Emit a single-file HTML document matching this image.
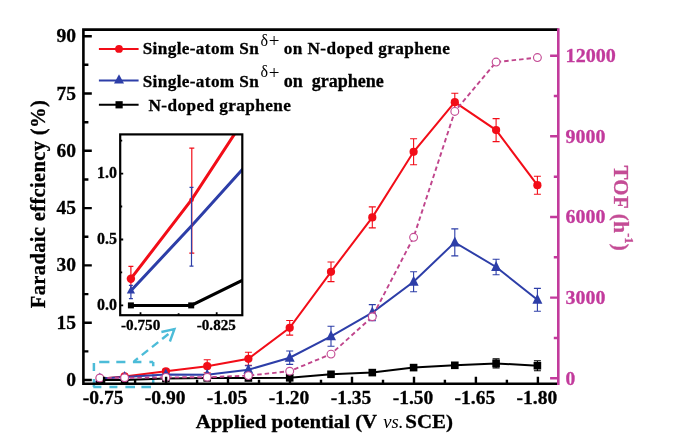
<!DOCTYPE html><html><head><meta charset="utf-8"><style>html,body{margin:0;padding:0;background:#fff;overflow:hidden}svg{display:block;will-change:transform}</style></head><body>
<svg width="674" height="441" viewBox="0 0 674 441" style="font-family:&quot;Liberation Serif&quot;,serif" font-weight="bold">
<rect width="674" height="441" fill="#fff"/>
<path d="M99.2 361.9H109.4M116.3 361.9H125.4M132.9 361.9H141.4M149.4 361.9H153.2M153.2 361.9V366.2M153.2 374.2V383.8M93.3 387H101.4M109.4 387H117.4M125.4 387H135.0M141.4 387H151.0M93.9 363V371M93.9 379V387" stroke="#4cbcd8" stroke-width="2.5" fill="none"/>
<path d="M134 361.4L174.4 329.2" stroke="#4cbcd8" stroke-width="2.4" stroke-dasharray="8 5" stroke-dashoffset="3" fill="none"/>
<path d="M161.4 332L174.4 329.2L169.9 341.5" stroke="#4cbcd8" stroke-width="2.4" fill="none"/>
<path d="M165.9 369.3V373.3M162.4 369.3h7.0M162.4 373.3h7.0M207.2 359.7V372.7M203.7 359.7h7.0M203.7 372.7h7.0M248.4 352.3V365.3M244.9 352.3h7.0M244.9 365.3h7.0M289.7 320.5V335.1M286.2 320.5h7.0M286.2 335.1h7.0M331.0 262.0V281.6M327.5 262.0h7.0M327.5 281.6h7.0M372.3 206.9V227.9M368.8 206.9h7.0M368.8 227.9h7.0M413.6 138.8V164.8M410.1 138.8h7.0M410.1 164.8h7.0M454.8 93.2V111.2M451.3 93.2h7.0M451.3 111.2h7.0M496.1 118.6V141.6M492.6 118.6h7.0M492.6 141.6h7.0M537.4 176.2V194.2M533.9 176.2h7.0M533.9 194.2h7.0" stroke="#f20d18" stroke-width="1.1" fill="none"/>
<polyline points="99.8,378.7 124.6,376.4 165.9,371.3 207.2,366.2 248.4,358.8 289.7,327.8 331.0,271.8 372.3,217.4 413.6,151.8 454.8,102.2 496.1,130.1 537.4,185.2" fill="none" stroke="#f20d18" stroke-width="2"/>
<circle cx="99.8" cy="378.7" r="4.1" fill="#f20d18"/>
<circle cx="124.6" cy="376.4" r="4.1" fill="#f20d18"/>
<circle cx="165.9" cy="371.3" r="4.1" fill="#f20d18"/>
<circle cx="207.2" cy="366.2" r="4.1" fill="#f20d18"/>
<circle cx="248.4" cy="358.8" r="4.1" fill="#f20d18"/>
<circle cx="289.7" cy="327.8" r="4.1" fill="#f20d18"/>
<circle cx="331.0" cy="271.8" r="4.1" fill="#f20d18"/>
<circle cx="372.3" cy="217.4" r="4.1" fill="#f20d18"/>
<circle cx="413.6" cy="151.8" r="4.1" fill="#f20d18"/>
<circle cx="454.8" cy="102.2" r="4.1" fill="#f20d18"/>
<circle cx="496.1" cy="130.1" r="4.1" fill="#f20d18"/>
<circle cx="537.4" cy="185.2" r="4.1" fill="#f20d18"/>
<path d="M248.4 365.8V373.8M244.9 365.8h7.0M244.9 373.8h7.0M289.7 351.0V364.4M286.2 351.0h7.0M286.2 364.4h7.0M331.0 326.3V346.3M327.5 326.3h7.0M327.5 346.3h7.0M372.3 304.6V320.6M368.8 304.6h7.0M368.8 320.6h7.0M413.6 271.7V291.7M410.1 271.7h7.0M410.1 291.7h7.0M454.8 228.9V255.9M451.3 228.9h7.0M451.3 255.9h7.0M496.1 259.3V274.7M492.6 259.3h7.0M492.6 274.7h7.0M537.4 288.4V311.2M533.9 288.4h7.0M533.9 311.2h7.0" stroke="#2d3ea8" stroke-width="1.1" fill="none"/>
<polyline points="99.8,378.6 124.6,377.0 165.9,374.6 207.2,374.8 248.4,369.8 289.7,357.7 331.0,336.3 372.3,312.6 413.6,281.7 454.8,242.4 496.1,267.0 537.4,299.8" fill="none" stroke="#2d3ea8" stroke-width="2"/>
<path d="M99.8 372.6L104.8 382.6L94.8 382.6Z" fill="#2d3ea8"/>
<path d="M124.6 371.0L129.6 381.0L119.6 381.0Z" fill="#2d3ea8"/>
<path d="M165.9 368.6L170.9 378.6L160.9 378.6Z" fill="#2d3ea8"/>
<path d="M207.2 368.8L212.2 378.8L202.2 378.8Z" fill="#2d3ea8"/>
<path d="M248.4 363.8L253.4 373.8L243.4 373.8Z" fill="#2d3ea8"/>
<path d="M289.7 351.7L294.7 361.7L284.7 361.7Z" fill="#2d3ea8"/>
<path d="M331.0 330.3L336.0 340.3L326.0 340.3Z" fill="#2d3ea8"/>
<path d="M372.3 306.6L377.3 316.6L367.3 316.6Z" fill="#2d3ea8"/>
<path d="M413.6 275.7L418.6 285.7L408.6 285.7Z" fill="#2d3ea8"/>
<path d="M454.8 236.4L459.8 246.4L449.8 246.4Z" fill="#2d3ea8"/>
<path d="M496.1 261.0L501.1 271.0L491.1 271.0Z" fill="#2d3ea8"/>
<path d="M537.4 293.8L542.4 303.8L532.4 303.8Z" fill="#2d3ea8"/>
<path d="M496.1 358.9V367.9M492.6 358.9h7.0M492.6 367.9h7.0M537.4 360.7V370.7M533.9 360.7h7.0M533.9 370.7h7.0" stroke="#000" stroke-width="1.1" fill="none"/>
<polyline points="99.8,380.0 124.6,380.0 165.9,378.6 207.2,377.9 248.4,378.0 289.7,377.8 331.0,374.3 372.3,372.6 413.6,367.6 454.8,365.3 496.1,363.4 537.4,365.7" fill="none" stroke="#000" stroke-width="2"/>
<rect x="96.0" y="376.2" width="7.6" height="7.6" fill="#000"/>
<rect x="120.8" y="376.2" width="7.6" height="7.6" fill="#000"/>
<rect x="162.1" y="374.8" width="7.6" height="7.6" fill="#000"/>
<rect x="203.4" y="374.1" width="7.6" height="7.6" fill="#000"/>
<rect x="244.6" y="374.2" width="7.6" height="7.6" fill="#000"/>
<rect x="285.9" y="374.0" width="7.6" height="7.6" fill="#000"/>
<rect x="327.2" y="370.5" width="7.6" height="7.6" fill="#000"/>
<rect x="368.5" y="368.8" width="7.6" height="7.6" fill="#000"/>
<rect x="409.8" y="363.8" width="7.6" height="7.6" fill="#000"/>
<rect x="451.0" y="361.5" width="7.6" height="7.6" fill="#000"/>
<rect x="492.3" y="359.6" width="7.6" height="7.6" fill="#000"/>
<rect x="533.6" y="361.9" width="7.6" height="7.6" fill="#000"/>
<polyline points="99.8,378.0 124.6,377.8 165.9,377.4 207.2,377.2 248.4,375.6 289.7,371.2 331.0,354.1 372.3,316.8 413.6,237.3 454.8,111.4 496.1,62.1 537.4,57.6" fill="none" stroke="#c0458c" stroke-width="1.9" stroke-dasharray="4.5 3"/>
<circle cx="99.8" cy="378.0" r="3.9" fill="#fff" stroke="#c44c95" stroke-width="1.15"/>
<circle cx="124.6" cy="377.8" r="3.9" fill="#fff" stroke="#c44c95" stroke-width="1.15"/>
<circle cx="165.9" cy="377.4" r="3.9" fill="#fff" stroke="#c44c95" stroke-width="1.15"/>
<circle cx="207.2" cy="377.2" r="3.9" fill="#fff" stroke="#c44c95" stroke-width="1.15"/>
<circle cx="248.4" cy="375.6" r="3.9" fill="#fff" stroke="#c44c95" stroke-width="1.15"/>
<circle cx="289.7" cy="371.2" r="3.9" fill="#fff" stroke="#c44c95" stroke-width="1.15"/>
<circle cx="331.0" cy="354.1" r="3.9" fill="#fff" stroke="#c44c95" stroke-width="1.15"/>
<circle cx="372.3" cy="316.8" r="3.9" fill="#fff" stroke="#c44c95" stroke-width="1.15"/>
<circle cx="413.6" cy="237.3" r="3.9" fill="#fff" stroke="#c44c95" stroke-width="1.15"/>
<circle cx="454.8" cy="111.4" r="3.9" fill="#fff" stroke="#c44c95" stroke-width="1.15"/>
<circle cx="496.1" cy="62.1" r="3.9" fill="#fff" stroke="#c44c95" stroke-width="1.15"/>
<circle cx="537.4" cy="57.6" r="3.9" fill="#fff" stroke="#c44c95" stroke-width="1.15"/>
<path d="M83.4 29.6H558.3M83.4 28.3V383.7H558.3" stroke="#000" stroke-width="2.6" fill="none"/>
<path d="M558.3 28.3V385.0" stroke="#c23a9c" stroke-width="2.6" fill="none"/>
<path d="M83.4 380.0h8.4M83.4 351.4h5M83.4 322.7h8.4M83.4 294.1h5M83.4 265.4h8.4M83.4 236.7h5M83.4 208.1h8.4M83.4 179.5h5M83.4 150.8h8.4M83.4 122.2h5M83.4 93.5h8.4M83.4 64.8h5M83.4 36.2h8.4" stroke="#000" stroke-width="2.4"/>
<text x="76" y="386.0" font-size="19.5" text-anchor="end" stroke="#000" stroke-width="0.3">0</text>
<text x="76" y="328.7" font-size="19.5" text-anchor="end" stroke="#000" stroke-width="0.3">15</text>
<text x="76" y="271.4" font-size="19.5" text-anchor="end" stroke="#000" stroke-width="0.3">30</text>
<text x="76" y="214.1" font-size="19.5" text-anchor="end" stroke="#000" stroke-width="0.3">45</text>
<text x="76" y="156.8" font-size="19.5" text-anchor="end" stroke="#000" stroke-width="0.3">60</text>
<text x="76" y="99.5" font-size="19.5" text-anchor="end" stroke="#000" stroke-width="0.3">75</text>
<text x="76" y="42.2" font-size="19.5" text-anchor="end" stroke="#000" stroke-width="0.3">90</text>
<path d="M104.1 383.7v-7M135.1 383.7v-4M166.1 383.7v-7M197.1 383.7v-4M228.0 383.7v-7M259.0 383.7v-4M290.0 383.7v-7M321.0 383.7v-4M352.0 383.7v-7M383.0 383.7v-4M414.0 383.7v-7M444.9 383.7v-4M475.9 383.7v-7M506.9 383.7v-4M537.9 383.7v-7" stroke="#000" stroke-width="2.4"/>
<text x="103.1" y="403.9" font-size="19.5" text-anchor="middle" stroke="#000" stroke-width="0.3">-0.75</text>
<text x="165.1" y="403.9" font-size="19.5" text-anchor="middle" stroke="#000" stroke-width="0.3">-0.90</text>
<text x="227.0" y="403.9" font-size="19.5" text-anchor="middle" stroke="#000" stroke-width="0.3">-1.05</text>
<text x="289.0" y="403.9" font-size="19.5" text-anchor="middle" stroke="#000" stroke-width="0.3">-1.20</text>
<text x="351.0" y="403.9" font-size="19.5" text-anchor="middle" stroke="#000" stroke-width="0.3">-1.35</text>
<text x="413.0" y="403.9" font-size="19.5" text-anchor="middle" stroke="#000" stroke-width="0.3">-1.50</text>
<text x="474.9" y="403.9" font-size="19.5" text-anchor="middle" stroke="#000" stroke-width="0.3">-1.65</text>
<text x="536.9" y="403.9" font-size="19.5" text-anchor="middle" stroke="#000" stroke-width="0.3">-1.80</text>
<path d="M558.3 378.3h-8.2M558.3 338.0h-4.5M558.3 297.6h-8.2M558.3 257.3h-4.5M558.3 217.0h-8.2M558.3 176.7h-4.5M558.3 136.3h-8.2M558.3 96.0h-4.5M558.3 55.7h-8.2" stroke="#c23a9c" stroke-width="2.4"/>
<text x="565.6" y="384.5" font-size="19.5" fill="#c23a9c" textLength="9.8" lengthAdjust="spacingAndGlyphs" stroke="#c23a9c" stroke-width="0.3">0</text>
<text x="565.6" y="303.8" font-size="19.5" fill="#c23a9c" textLength="39.8" lengthAdjust="spacingAndGlyphs" stroke="#c23a9c" stroke-width="0.3">3000</text>
<text x="565.6" y="223.2" font-size="19.5" fill="#c23a9c" textLength="39.8" lengthAdjust="spacingAndGlyphs" stroke="#c23a9c" stroke-width="0.3">6000</text>
<text x="565.6" y="142.5" font-size="19.5" fill="#c23a9c" textLength="39.8" lengthAdjust="spacingAndGlyphs" stroke="#c23a9c" stroke-width="0.3">9000</text>
<text x="565.6" y="61.9" font-size="19.5" fill="#c23a9c" textLength="50.2" lengthAdjust="spacingAndGlyphs" stroke="#c23a9c" stroke-width="0.3">12000</text>
<text x="195.8" y="427.7" font-size="19.3" textLength="181.3" lengthAdjust="spacingAndGlyphs" stroke="#000" stroke-width="0.3">Applied potential (V</text>
<text x="383.3" y="427.7" font-size="19.3" font-style="italic" font-weight="normal" textLength="20.2" lengthAdjust="spacingAndGlyphs">vs.</text>
<text x="405.3" y="427.7" font-size="19.3" textLength="47.8" lengthAdjust="spacingAndGlyphs" stroke="#000" stroke-width="0.3">SCE)</text>
<text transform="translate(45.3 308.2) rotate(-90)" font-size="20.6" textLength="208" lengthAdjust="spacing" stroke="#000" stroke-width="0.3">Faradaic effciency (%)</text>
<text transform="translate(613.6 165.4) rotate(90)" font-size="21" letter-spacing="0.3" fill="#c44c95" stroke="#c44c95" stroke-width="0.3">TOF (h<tspan font-size="12" dy="-11.5">-1</tspan><tspan dy="11.5">)</tspan></text>
<path d="M98.9 48.9H138.6" stroke="#f20d18" stroke-width="2"/><circle cx="119" cy="48.9" r="3.9" fill="#f20d18"/>
<path d="M98.9 80.4H138.6" stroke="#2d3ea8" stroke-width="2"/><path d="M119 74.3L124 83.5H114Z" fill="#2d3ea8"/>
<path d="M98.9 104.8H138.6" stroke="#000" stroke-width="2"/><rect x="115.5" y="101.2" width="7.2" height="7.2" fill="#000"/>
<text x="142.7" y="54.4" font-size="17.2" textLength="116" lengthAdjust="spacing" stroke="#000" stroke-width="0.3">Single-atom Sn</text><text x="260.6" y="45.9" font-size="16" font-weight="normal">δ</text><text x="268.8" y="47.0" font-size="19" font-weight="normal">+</text><text x="283.8" y="54.4" font-size="17.2" textLength="166" lengthAdjust="spacing" stroke="#000" stroke-width="0.3">on N-doped graphene</text>
<text x="142.7" y="86.5" font-size="17.2" textLength="116" lengthAdjust="spacing" stroke="#000" stroke-width="0.3">Single-atom Sn</text><text x="260.6" y="77.4" font-size="16" font-weight="normal">δ</text><text x="268.8" y="78.8" font-size="19" font-weight="normal">+</text><text x="283.8" y="86.5" font-size="18" xml:space="preserve" textLength="100" lengthAdjust="spacing" stroke="#000" stroke-width="0.3">on  graphene</text>
<text x="148.4" y="110.6" font-size="17.2" textLength="142.5" lengthAdjust="spacing" stroke="#000" stroke-width="0.3">N-doped graphene</text>
<defs><clipPath id="ic"><rect x="120.2" y="134.4" width="122.1" height="180.8"/></clipPath></defs>
<rect x="120.2" y="134.4" width="122.1" height="180.8" fill="#fff"/>
<g clip-path="url(#ic)">
<polyline points="130.9,305.4 191.2,305.4 250,276.6" fill="none" stroke="#000" stroke-width="3"/>
<rect x="127.9" y="302.4" width="6" height="6" fill="#000"/><rect x="188.2" y="302.4" width="6" height="6" fill="#000"/>
<polyline points="130.9,290.8 191.2,226.2 250,160.9" fill="none" stroke="#2d3ea8" stroke-width="3"/>
<polyline points="130.9,278.7 191.8,199.4 250,110.4" fill="none" stroke="#f20d18" stroke-width="3"/>
<path d="M130.9 266.3V291M128.4 266.3h5M191.8 148.1V253.2M189.3 148.1h5M189.3 253.2h5" stroke="#f20d18" stroke-width="1.2" fill="none"/>
<circle cx="130.9" cy="278.7" r="4.2" fill="#f20d18"/><circle cx="191.6" cy="199.8" r="2.3" fill="#f20d18"/>
<path d="M130.9 285.4V298.6M128.9 285.4h4M128.9 298.6h4M191.5 187.3V266.1M189.5 187.3h4M189.5 266.1h4" stroke="#2d3ea8" stroke-width="1.2" fill="none"/>
<path d="M130.9 286L135 293.5H126.8Z" fill="#2d3ea8"/>
</g>
<rect x="120.2" y="134.4" width="122.1" height="180.8" fill="none" stroke="#000" stroke-width="2.2"/>
<path d="M120.2 305.4h3M120.2 239.5h3M120.2 173.6h3M120.2 272.4h2M120.2 206.5h2M120.2 140.6h2M140.5 315.2v-3M216.7 315.2v-3M178.6 315.2v-2" stroke="#000" stroke-width="1.8"/>
<text x="96.9" y="310.2" font-size="17" textLength="20" lengthAdjust="spacingAndGlyphs" stroke="#000" stroke-width="0.3">0.0</text>
<text x="96.9" y="244.3" font-size="17" textLength="20" lengthAdjust="spacingAndGlyphs" stroke="#000" stroke-width="0.3">0.5</text>
<text x="96.9" y="178.4" font-size="17" textLength="20" lengthAdjust="spacingAndGlyphs" stroke="#000" stroke-width="0.3">1.0</text>
<text x="121" y="330.3" font-size="15.5" textLength="39.3" lengthAdjust="spacingAndGlyphs" stroke="#000" stroke-width="0.3">-0.750</text>
<text x="196.8" y="330.3" font-size="15.5" textLength="39" lengthAdjust="spacingAndGlyphs" stroke="#000" stroke-width="0.3">-0.825</text>
</svg></body></html>
